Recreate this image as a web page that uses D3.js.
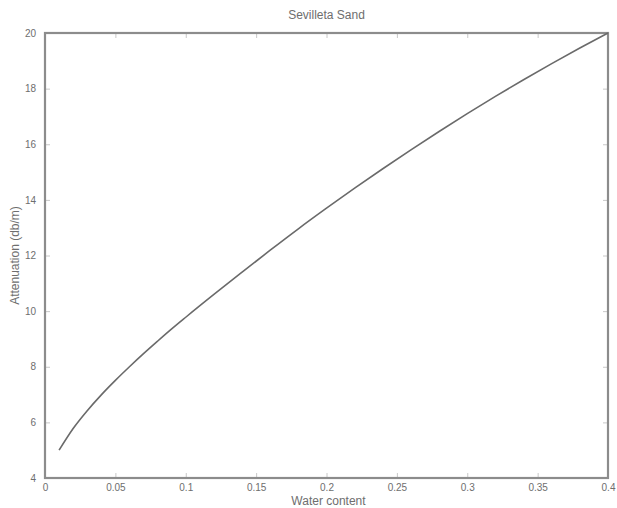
<!DOCTYPE html>
<html>
<head>
<meta charset="utf-8">
<script src="https://cdn.jsdelivr.net/npm/d3@7"></script>
<style>
  html, body { margin: 0; padding: 0; background: #fff; }
  svg { display: block; }
  text { font-family: "Liberation Sans", Arial, sans-serif; fill: #6e6e6e; }
</style>
</head>
<body>
<svg id="chart" width="617" height="508"></svg>
<script>
// Data
const waterContent = [0.01, 0.02, 0.03, 0.04, 0.05, 0.06, 0.07, 0.08, 0.09, 0.10,
                      0.12, 0.14, 0.16, 0.18, 0.20, 0.22, 0.24, 0.26, 0.28, 0.30,
                      0.32, 0.34, 0.36, 0.38, 0.40];
const attenuation = [5.0, 5.78, 6.42, 6.99, 7.51, 8.0, 8.47, 8.92, 9.36, 9.78,
                     10.6, 11.4, 12.19, 12.96, 13.7, 14.42, 15.12, 15.8, 16.46, 17.1,
                     17.72, 18.32, 18.9, 19.46, 20.0];
const xTicks = [0, 0.05, 0.1, 0.15, 0.2, 0.25, 0.3, 0.35, 0.4];
const xTickLabels = ["0", "0.05", "0.1", "0.15", "0.2", "0.25", "0.3", "0.35", "0.4"];
const yTicks = [4, 6, 8, 10, 12, 14, 16, 18, 20];
const titleText = "Sevilleta Sand";
const xLabel = "Water content";
const yLabel = "Attenuation (db/m)";

const svg = d3.select("#chart");
const m = { left: 45, right: 608, top: 33, bottom: 478 };

const x = d3.scaleLinear().domain([0, 0.4]).range([m.left, m.right]);
const y = d3.scaleLinear().domain([4, 20]).range([m.bottom, m.top]);

const axisColor = "#8c8c8c";
const tickLen = 5;

// inward ticks on all four sides
const gB = svg.append("g").attr("transform", `translate(0,${m.bottom})`)
  .call(d3.axisBottom(x).tickValues(xTicks).tickSize(-tickLen).tickPadding(7)
    .tickFormat((d, i) => xTickLabels[i]));
const gT = svg.append("g").attr("transform", `translate(0,${m.top})`)
  .call(d3.axisTop(x).tickValues(xTicks).tickSize(-tickLen).tickFormat(""));
const gL = svg.append("g").attr("transform", `translate(${m.left},0)`)
  .call(d3.axisLeft(y).tickValues(yTicks).tickSize(-tickLen).tickPadding(9));
const gR = svg.append("g").attr("transform", `translate(${m.right},0)`)
  .call(d3.axisRight(y).tickValues(yTicks).tickSize(-tickLen).tickFormat(""));

[gB, gT, gL, gR].forEach(g => {
  g.select(".domain").remove();
  g.selectAll(".tick line").attr("stroke", "#c8c8c8").attr("stroke-width", 1);
  g.selectAll(".tick text").attr("fill", "#777")
    .style("font-family", '"Liberation Sans", Arial, sans-serif')
    .style("font-size", "10px");
});
gB.selectAll(".tick text").attr("dy", "0.6em");

// plot frame
svg.append("rect")
  .attr("x", m.left).attr("y", m.top)
  .attr("width", m.right - m.left).attr("height", m.bottom - m.top)
  .attr("fill", "none").attr("stroke", axisColor).attr("stroke-width", 2.2);

// curve
const pts = waterContent.map((w, i) => [w, attenuation[i]]);
svg.append("path")
  .datum(pts)
  .attr("fill", "none")
  .attr("stroke", "#6a6a6a")
  .attr("stroke-width", 1.6)
  .attr("d", d3.line().x(d => x(d[0])).y(d => y(d[1])).curve(d3.curveMonotoneX));

// title and axis labels
svg.append("text").attr("x", (m.left + m.right) / 2).attr("y", 19)
  .attr("text-anchor", "middle").style("font-size", "12px").text(titleText);
svg.append("text").attr("x", (m.left + m.right) / 2 + 2).attr("y", 505)
  .attr("text-anchor", "middle").style("font-size", "12px").text(xLabel);
svg.append("text")
  .attr("transform", `translate(19,${(m.top + m.bottom) / 2}) rotate(-90)`)
  .attr("text-anchor", "middle").style("font-size", "12px").text(yLabel);
</script>
</body>
</html>
